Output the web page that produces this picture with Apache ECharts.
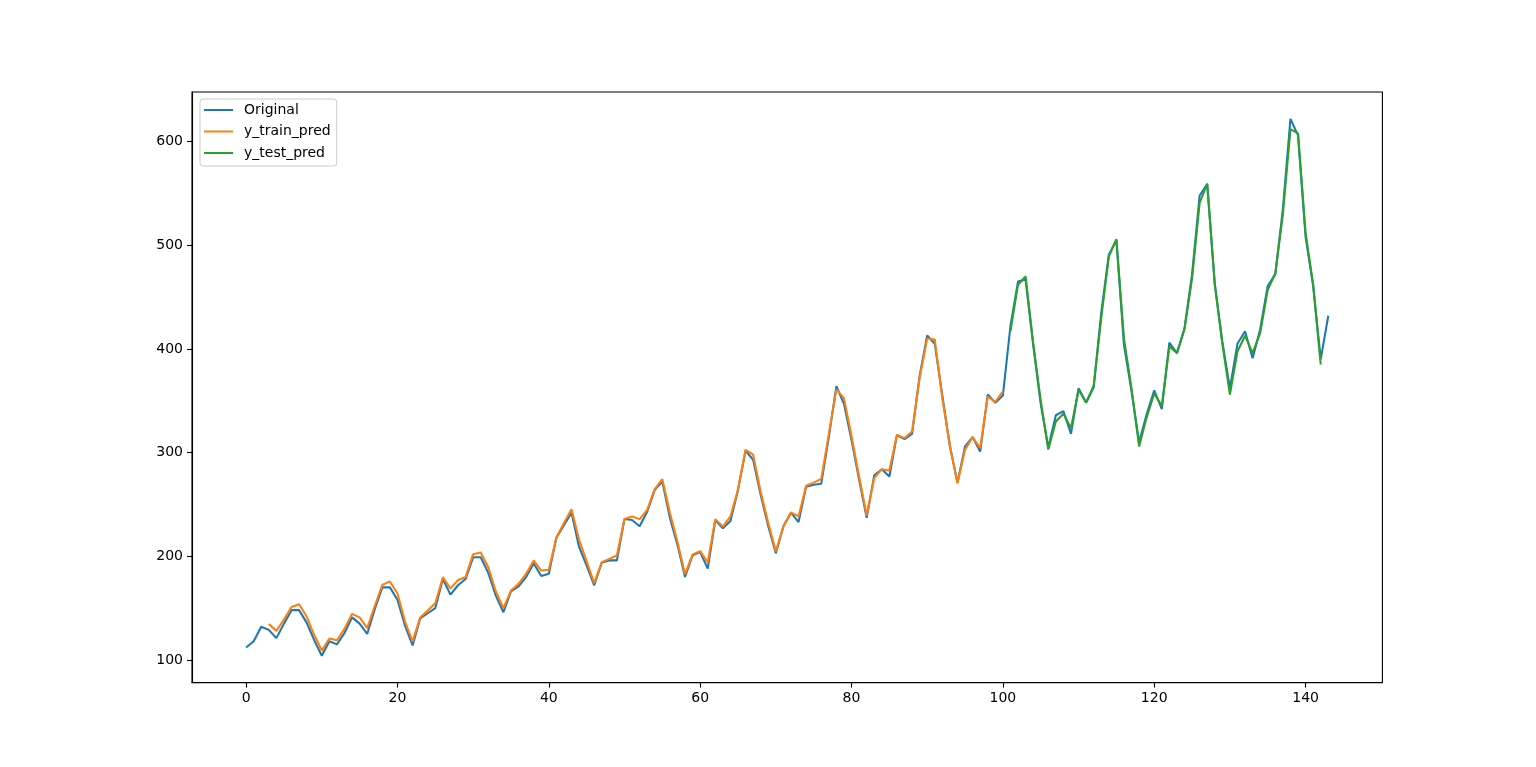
<!DOCTYPE html>
<html>
<head>
<meta charset="utf-8">
<script src="https://cdn.jsdelivr.net/npm/echarts@6/dist/echarts.min.js"></script>
<style>
html,body{margin:0;padding:0;background:#fff;}
#c{width:1536px;height:767px;}
</style>
</head>
<body>
<div id="c"></div>
<script>
// Original series (index 0..143)
const original = [112,118,132,129,121,135,148,148,136,119,104,118,
115,126,141,135,125,149,170,170,158,133,114,140,
145,150,178,163,172,178,199,199,184,162,146,166,
171,180,193,181,183,218,230,242,209,191,172,194,
196,196,236,235,229,243,264,272,237,211,180,201,
204,188,235,227,234,264,302,293,259,229,203,229,
242,233,267,269,270,315,364,347,312,274,237,278,
284,277,317,313,318,374,413,405,355,306,271,306,
315,301,356,348,355,422,465,467,404,347,305,336,
340,318,362,348,363,435,491,505,404,359,310,337,
360,342,406,396,420,472,548,559,463,407,362,405,
417,391,419,461,472,535,622,606,508,461,390,432];

// Train predictions start at index 3
const trainStart = 3;
const trainPred = [134.7,128,139,151,153.7,141.8,124,109,120.6,119,130,144.4,141,130.6,152,172.4,175.6,164,137,117.7,
141,147.6,154.7,179.8,168.9,177,179.8,202,203.6,189.4,166,149.9,166.9,173.4,183,195.9,186.2,186.9,218,232,
245.4,215.8,195,174,194.3,197.5,201,236,238.4,235.8,244.8,264.7,274.4,242,214,182.7,201.7,204.9,194,235.8,
228.7,238.4,264.7,302.7,298,262,232,204.6,228.7,242.2,238.4,268,271,274.7,318,361,352.6,316,277,239.3,
275.3,284,282.8,317,314,320.3,372,410,409,352,307,270.5,302.7,314.9,304.3,354,349,359];

// Test predictions start at index 101
const testStart = 101;
const testPred = [417,462,470,406,350,303,330,337.5,323.6,360.6,348.4,364.5,430,489,506,410,362,306,334,357,
345,402.5,396,419,468,541,559.5,462,405,356,397.6,412.7,396,415.3,457,473,530,612,608,512,462,385];

const xTicks = [0,20,40,60,80,100,120,140];
const yTicks = [100,200,300,400,500,600];

const toPairs = (arr, start) => arr.map((v, i) => [start + i, v]);

const font = {fontFamily: 'DejaVu Sans', fontSize: 14, color: '#000'};
const chart = echarts.init(document.getElementById('c'), null, {renderer: 'canvas'});
chart.setOption({
  animation: false,
  backgroundColor: '#fff',
  grid: {left: 192, right: 153.6, top: 92, bottom: 84.4, show: true, borderColor: '#000', borderWidth: 1.1, backgroundColor: 'transparent'},
  xAxis: {
    type: 'value', min: -7.15, max: 150.15,
    axisLine: {show: true, onZero: false, lineStyle: {color: '#000', width: 1.1}},
    axisTick: {show: true, length: 5, lineStyle: {color: '#000', width: 1.1}, customValues: xTicks},
    axisLabel: {customValues: xTicks, margin: 9, ...font},
    splitLine: {show: false}
  },
  yAxis: {
    type: 'value', min: 78.1, max: 647.9,
    axisLine: {show: true, onZero: false, lineStyle: {color: '#000', width: 1.1}},
    axisTick: {show: true, length: 5, lineStyle: {color: '#000', width: 1.1}, customValues: yTicks},
    axisLabel: {customValues: yTicks, margin: 9, ...font},
    splitLine: {show: false}
  },
  legend: {
    orient: 'vertical', left: 200, top: 99,
    padding: [4, 6, 6, 4],
    itemGap: 7.5, itemWidth: 29, itemHeight: 2,
    icon: 'rect',
    borderColor: '#cccccc', borderWidth: 1, borderRadius: 3,
    backgroundColor: 'rgba(255,255,255,0.8)',
    textStyle: {fontFamily: 'DejaVu Sans', fontSize: 14, color: '#000', padding: [0, 0, 0, 6]},
    data: ['Original', 'y_train_pred', 'y_test_pred']
  },
  series: [
    {name: 'Original', type: 'line', data: toPairs(original, 0), showSymbol: false, symbol: 'none',
     lineStyle: {color: '#1f77b4', width: 2.08}, itemStyle: {color: '#1f77b4'}},
    {name: 'y_train_pred', type: 'line', data: toPairs(trainPred, trainStart), showSymbol: false, symbol: 'none',
     lineStyle: {color: '#ff7f0e', width: 2.08}, itemStyle: {color: '#ff7f0e'}},
    {name: 'y_test_pred', type: 'line', data: toPairs(testPred, testStart), showSymbol: false, symbol: 'none',
     lineStyle: {color: '#2ca02c', width: 2.08}, itemStyle: {color: '#2ca02c'}}
  ]
});
</script>
</body>
</html>
